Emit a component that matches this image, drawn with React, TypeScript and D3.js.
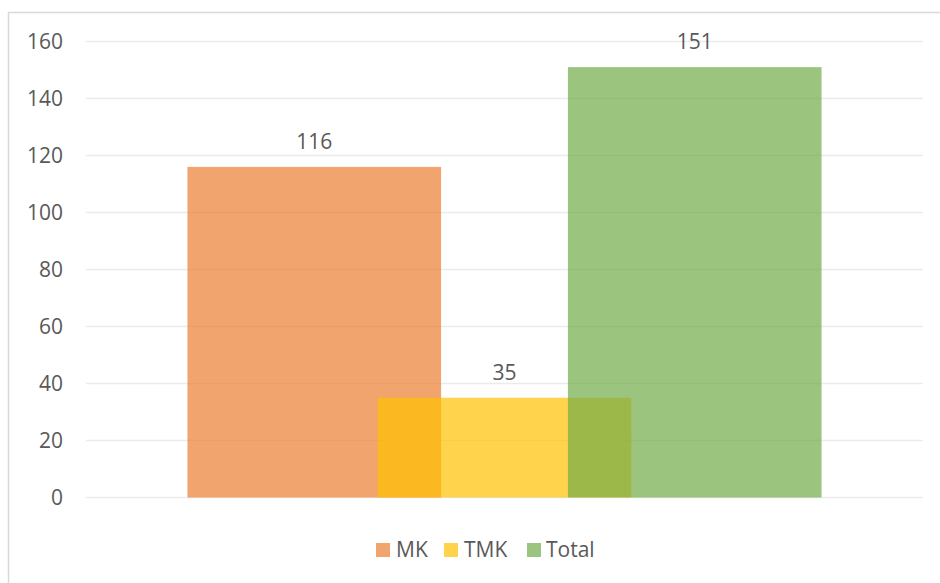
import React from "react";
import * as d3 from "d3";

const categories = ["2023"];
const seriesNames = ["MK", "TMK", "Total"];
const seriesValues = [116, 35, 151];
const yTicks = [0, 20, 40, 60, 80, 100, 120, 140, 160];
const seriesColors = ["#ED7D31", "#FFC000", "#70AD47"];

const W = 940;
const H = 583;
const plot = { left: 86, right: 923, top: 41.5, bottom: 497.5 };
const gapWidth = 0.8;
const overlap = 0.25;
const FONT = "'Open Sans', 'Noto Sans', sans-serif";
const TEXT = "#595959";

export default function App() {
  const y = d3.scaleLinear().domain([0, 160]).range([plot.bottom, plot.top]);
  const xCat = d3.scaleBand().domain(categories).range([plot.left, plot.right]).padding(0);
  const n = seriesNames.length;
  const catW = xCat.bandwidth();
  const barW = catW / (n - (n - 1) * overlap + gapWidth);
  const step = barW * (1 - overlap);
  const clusterW = barW + (n - 1) * step;
  const x0 = (xCat(categories[0]) as number) + (catW - clusterW) / 2;

  const legendItems = [
    { name: seriesNames[0], sx: 376, tx: 396 },
    { name: seriesNames[1], sx: 444, tx: 464 },
    { name: seriesNames[2], sx: 527, tx: 546 },
  ];

  return (
    <svg
      width={W}
      height={H}
      style={{ position: "absolute", left: 0, top: 0, background: "#fff" }}
    >
      <rect x={8.5} y={12.5} width={W + 20} height={H + 20} fill="#fff" stroke="#D9D9D9" strokeWidth={1.5} />
      {yTicks.map((t) => (
        <g key={t}>
          <line x1={plot.left} x2={plot.right} y1={y(t)} y2={y(t)} stroke="#EBEBEB" strokeWidth={1.5} />
          <text
            x={63}
            y={y(t)}
            dy="0.36em"
            textAnchor="end"
            fontFamily={FONT}
            fontSize={21}
            fill={TEXT}
          >
            {t}
          </text>
        </g>
      ))}
      {seriesValues.map((v, i) => {
        const bx = x0 + i * step;
        return (
          <g key={seriesNames[i]}>
            <rect
              x={bx}
              y={y(v)}
              width={barW}
              height={y(0) - y(v)}
              fill={seriesColors[i]}
              fillOpacity={0.7}
            />
          </g>
        );
      })}
      {seriesValues.map((v, i) => {
        const bx = x0 + i * step;
        return (
          <text
            key={"l" + i}
            x={bx + barW / 2}
            y={y(v) - 18}
            textAnchor="middle"
            fontFamily={FONT}
            fontSize={21}
            fill={TEXT}
          >
            {v}
          </text>
        );
      })}
      {legendItems.map((it, i) => (
        <g key={it.name}>
          <rect x={it.sx} y={543} width={14} height={14} fill={seriesColors[i]} fillOpacity={0.7} />
          <text x={it.tx} y={557} fontFamily={FONT} fontSize={21} fill={TEXT}>
            {it.name}
          </text>
        </g>
      ))}
    </svg>
  );
}
